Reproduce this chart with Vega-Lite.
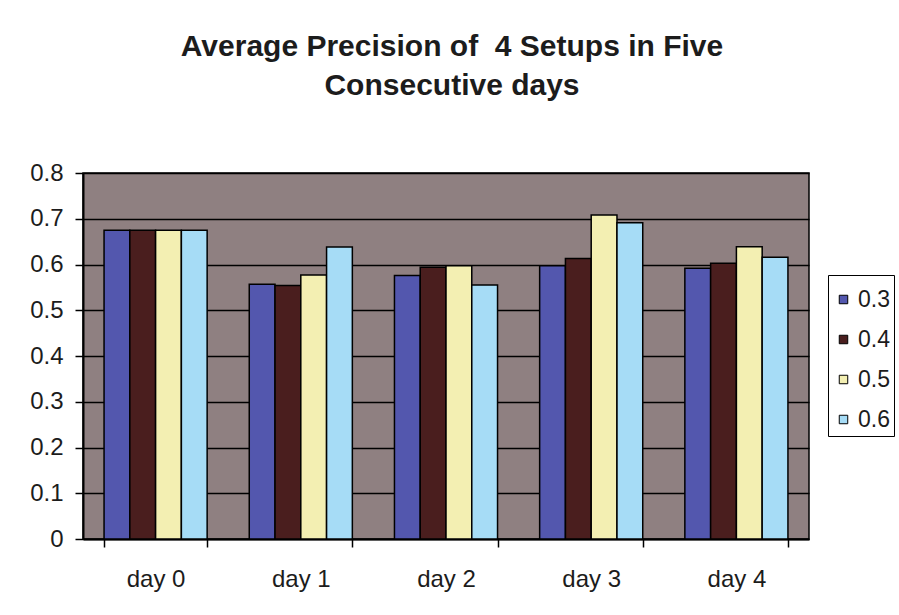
{
  "$schema": "https://vega.github.io/schema/vega-lite/v6.json",
  "width": 726,
  "height": 366,
  "autosize": {"type": "none"},
  "padding": {"left": 83, "top": 173, "right": 90, "bottom": 76},
  "background": "white",
  "title": {
    "text": ["Average Precision of\u00a0 4 Setups in Five", "Consecutive days"],
    "font": "Liberation Sans",
    "fontSize": 30,
    "fontWeight": "bold",
    "color": "#1c1c1c",
    "lineHeight": 39,
    "offset": 60,
    "anchor": "middle",
    "dx": 6
  },
  "data": {
    "values": [
      {"day": "day 0", "setup": "0.3", "precision": 0.675},
      {"day": "day 0", "setup": "0.4", "precision": 0.675},
      {"day": "day 0", "setup": "0.5", "precision": 0.675},
      {"day": "day 0", "setup": "0.6", "precision": 0.675},
      {"day": "day 1", "setup": "0.3", "precision": 0.557},
      {"day": "day 1", "setup": "0.4", "precision": 0.554},
      {"day": "day 1", "setup": "0.5", "precision": 0.577},
      {"day": "day 1", "setup": "0.6", "precision": 0.638},
      {"day": "day 2", "setup": "0.3", "precision": 0.576},
      {"day": "day 2", "setup": "0.4", "precision": 0.594},
      {"day": "day 2", "setup": "0.5", "precision": 0.597},
      {"day": "day 2", "setup": "0.6", "precision": 0.555},
      {"day": "day 3", "setup": "0.3", "precision": 0.597},
      {"day": "day 3", "setup": "0.4", "precision": 0.613},
      {"day": "day 3", "setup": "0.5", "precision": 0.708},
      {"day": "day 3", "setup": "0.6", "precision": 0.691},
      {"day": "day 4", "setup": "0.3", "precision": 0.592},
      {"day": "day 4", "setup": "0.4", "precision": 0.603},
      {"day": "day 4", "setup": "0.5", "precision": 0.639},
      {"day": "day 4", "setup": "0.6", "precision": 0.616}
    ]
  },
  "mark": {"type": "bar", "stroke": "black", "strokeWidth": 1.5},
  "encoding": {
    "x": {
      "field": "day",
      "type": "nominal",
      "scale": {"paddingInner": 0.29, "paddingOuter": 0.145},
      "axis": {
        "title": null,
        "labelAngle": 0,
        "labelFont": "Liberation Sans",
        "labelFontSize": 24,
        "labelColor": "#1c1c1c",
        "labelPadding": 20,
        "tickBand": "extent",
        "tickSize": 8,
        "tickWidth": 1.5,
        "tickColor": "black",
        "domainColor": "black",
        "domainWidth": 2,
        "grid": false
      }
    },
    "xOffset": {
      "field": "setup",
      "type": "nominal",
      "scale": {"paddingInner": 0, "paddingOuter": 0}
    },
    "y": {
      "field": "precision",
      "type": "quantitative",
      "scale": {"domain": [0, 0.8], "nice": false},
      "axis": {
        "title": null,
        "values": [0, 0.1, 0.2, 0.3, 0.4, 0.5, 0.6, 0.7, 0.8],
        "format": "~g",
        "labelFont": "Liberation Sans",
        "labelFontSize": 24,
        "labelColor": "#1c1c1c",
        "labelPadding": 12,
        "tickSize": 8,
        "tickWidth": 1.5,
        "tickColor": "black",
        "domainColor": "black",
        "domainWidth": 2,
        "grid": true,
        "gridColor": "black",
        "gridWidth": 1.5,
        "gridOpacity": 1
      }
    },
    "color": {
      "field": "setup",
      "type": "nominal",
      "scale": {
        "domain": ["0.3", "0.4", "0.5", "0.6"],
        "range": ["#5357ae", "#4a1e1e", "#f3efb2", "#a6dcf6"]
      },
      "legend": {
        "title": " ",
        "titleFontSize": 2,
        "titlePadding": 7,
        "orient": "none",
        "legendX": 745,
        "legendY": 102,
        "padding": 4,
        "strokeColor": "black",
        "fillColor": "white",
        "symbolType": "square",
        "symbolSize": 72,
        "symbolStrokeColor": "black",
        "symbolStrokeWidth": 1,
        "labelFont": "Liberation Sans",
        "labelFontSize": 23,
        "labelColor": "#1c1c1c",
        "labelOffset": 3,
        "rowPadding": 16
      }
    }
  },
  "config": {
    "view": {"fill": "#8f8081", "stroke": "black", "strokeWidth": 1.5}
  }
}
